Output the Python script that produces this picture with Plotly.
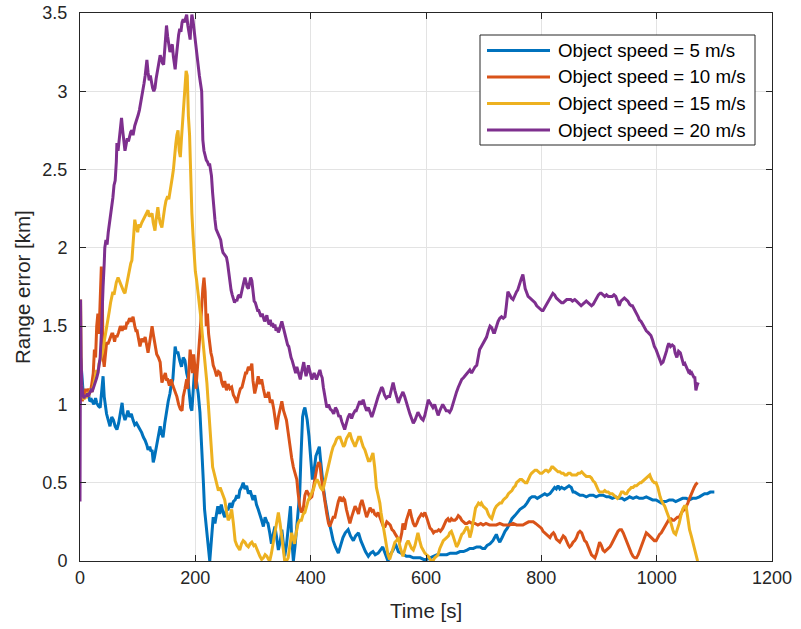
import plotly.graph_objects as go

# ---------------- data (time [s], range error [km]) ----------------
speed5 = [(0,1.0),(1,1.30),(3,1.20),(5,1.10),(8,1.08),(10,1.05),(14,1.08),(17,1.02),(20,1.03),(24,1.0),(27,1.04),(29,1.01),(32,0.99),(35,0.98),(38,1.10),(40,1.18),(42,1.05),(46,0.94),(49,0.90),(52,0.86),(55,0.92),(58,0.90),(61,0.86),(64,0.84),(67,0.88),(70,0.95),(73,1.01),(75,0.94),(78,0.90),(81,0.93),(83,0.96),(86,0.92),(89,0.94),(92,0.90),(95,0.87),(98,0.88),(101,0.86),(104,0.84),(107,0.82),(110,0.79),(113,0.77),(116,0.74),(118,0.71),(121,0.73),(123,0.70),(125,0.71),(127,0.63),(129,0.66),(131,0.70),(133,0.73),(136,0.80),(139,0.86),(141,0.82),(144,0.79),(147,0.88),(150,0.96),(153,1.02),(156,1.07),(158,1.12),(161,1.16),(163,1.25),(165,1.37),(167,1.33),(170,1.33),(173,1.28),(176,1.24),(179,1.30),(182,1.28),(185,1.20),(187,1.17),(190,1.05),(192,0.98),(194,0.96),(196,1.10),(199,1.24),(202,1.15),(205,1.07),(208,0.95),(211,0.75),(214,0.50),(216,0.33),(219,0.20),(222,0.11),(225,0.0),(228,0.15),(231,0.28),(234,0.24),(237,0.32),(239,0.35),(242,0.30),(245,0.36),(248,0.31),(251,0.28),(254,0.33),(257,0.33),(260,0.37),(263,0.34),(266,0.38),(269,0.39),(272,0.42),(275,0.40),(277,0.45),(280,0.47),(283,0.50),(286,0.46),(289,0.48),(292,0.43),(295,0.45),(298,0.41),(300,0.39),(303,0.42),(306,0.36),(309,0.33),(312,0.30),(315,0.26),(318,0.22),(321,0.28),(324,0.25),(326,0.24),(329,0.18),(332,0.11),(335,0.17),(338,0.22),(341,0.15),(344,0.07),(347,0.12),(350,0.20),(353,0.10),(355,0.03),(358,0.10),(361,0.20),(363,0.28),(365,0.35),(367,0.15),(370,0.0),(373,0.10),(376,0.22),(379,0.32),(381,0.43),(383,0.65),(386,0.92),(388,0.96),(390,0.98),(392,0.94),(394,0.90),(397,0.80),(399,0.69),(401,0.60),(403,0.52),(406,0.58),(409,0.67),(412,0.70),(415,0.73),(417,0.65),(419,0.56),(422,0.47),(425,0.39),(428,0.32),(431,0.26),(435,0.20),(439,0.13),(443,0.09),(448,0.05),(452,0.10),(456,0.15),(460,0.18),(465,0.20),(469,0.16),(474,0.13),(478,0.16),(483,0.18),(487,0.13),(491,0.09),(495,0.06),(500,0.03),(504,0.05),(508,0.06),(512,0.04),(517,0.05),(521,0.07),(525,0.09),(529,0.05),(534,0.0),(538,0.04),(543,0.07),(547,0.11),(552,0.06),(557,0.05),(562,0.04),(566,0.03),(572,0.03),(578,0.02),(584,0.02),(590,0.02),(596,0.01),(601,0.01),(607,0.02),(613,0.03),(619,0.04),(625,0.04),(630,0.04),(636,0.04),(642,0.05),(648,0.05),(653,0.05),(659,0.06),(665,0.06),(671,0.07),(676,0.08),(682,0.08),(688,0.09),(694,0.09),(698,0.08),(702,0.08),(706,0.10),(711,0.11),(716,0.13),(719,0.15),(722,0.17),(725,0.14),(728,0.12),(732,0.15),(737,0.19),(741,0.21),(745,0.24),(749,0.27),(754,0.29),(758,0.31),(763,0.33),(767,0.34),(771,0.35),(775,0.37),(780,0.40),(784,0.41),(789,0.41),(793,0.40),(797,0.41),(801,0.42),(806,0.43),(810,0.42),(815,0.43),(819,0.45),(823,0.47),(826,0.46),(829,0.48),(832,0.46),(835,0.47),(840,0.46),(844,0.47),(848,0.48),(852,0.47),(855,0.44),(858,0.44),(862,0.43),(867,0.42),(872,0.42),(878,0.41),(884,0.42),(890,0.42),(895,0.41),(901,0.42),(907,0.42),(913,0.41),(918,0.41),(923,0.40),(929,0.41),(935,0.40),(940,0.40),(944,0.39),(949,0.40),(953,0.41),(959,0.40),(965,0.41),(970,0.40),(976,0.40),(982,0.41),(988,0.40),(993,0.39),(999,0.39),(1004,0.38),(1008,0.37),(1012,0.38),(1016,0.38),(1022,0.39),(1028,0.39),(1033,0.38),(1039,0.39),(1045,0.40),(1051,0.40),(1057,0.39),(1062,0.40),(1068,0.40),(1074,0.41),(1079,0.42),(1083,0.43),(1088,0.43),(1093,0.44),(1097,0.44),(1100,0.44)]

speed10 = [(0,1.10),(2,1.05),(4,1.02),(6,1.08),(8,1.05),(10,1.10),(12,1.06),(15,1.10),(18,1.08),(20,1.12),(23,1.20),(25,1.35),(27,1.30),(29,1.50),(31,1.58),(33,1.45),(35,1.70),(37,1.88),(39,1.60),(40,1.30),(42,1.24),(44,1.35),(46,1.39),(49,1.39),(52,1.42),(55,1.45),(57,1.45),(60,1.40),(62,1.44),(64,1.43),(67,1.46),(70,1.50),(73,1.47),(76,1.50),(79,1.48),(81,1.52),(83,1.52),(86,1.55),(89,1.53),(92,1.56),(95,1.50),(97,1.47),(99,1.47),(102,1.40),(104,1.37),(107,1.42),(110,1.40),(113,1.43),(115,1.38),(118,1.33),(121,1.40),(123,1.46),(125,1.50),(127,1.45),(130,1.37),(133,1.32),(136,1.30),(139,1.27),(142,1.14),(145,1.17),(148,1.20),(150,1.16),(152,1.16),(155,1.12),(158,1.16),(161,1.12),(163,1.10),(165,1.09),(168,1.05),(171,1.00),(174,0.97),(177,0.96),(179,1.05),(182,1.10),(185,1.16),(187,1.10),(189,1.25),(191,1.35),(193,1.28),(195,1.20),(197,1.32),(199,1.25),(201,1.10),(203,1.22),(205,1.35),(207,1.40),(209,1.50),(211,1.65),(213,1.74),(215,1.81),(217,1.72),(219,1.50),(221,1.58),(223,1.45),(225,1.38),(227,1.33),(229,1.30),(231,1.25),(234,1.22),(237,1.18),(240,1.21),(243,1.20),(246,1.14),(249,1.11),(251,1.15),(254,1.09),(257,1.13),(260,1.10),(263,1.11),(266,1.06),(269,1.04),(272,1.01),(275,1.06),(278,1.10),(281,1.11),(284,1.15),(287,1.20),(289,1.20),(292,1.24),(295,1.22),(298,1.26),(300,1.15),(303,1.07),(306,1.12),(309,1.18),(312,1.13),(315,1.16),(318,1.10),(321,1.05),(324,1.05),(327,1.08),(330,1.01),(333,1.03),(336,0.97),(339,0.90),(341,0.84),(344,0.92),(347,0.98),(350,1.02),(353,0.96),(356,0.92),(358,0.90),(361,0.82),(364,0.73),(367,0.66),(370,0.60),(373,0.56),(376,0.52),(378,0.44),(381,0.35),(384,0.31),(387,0.33),(390,0.42),(393,0.45),(396,0.43),(399,0.40),(402,0.41),(405,0.48),(408,0.55),(411,0.60),(414,0.63),(416,0.62),(419,0.52),(422,0.44),(425,0.37),(428,0.30),(431,0.24),(433,0.22),(436,0.25),(439,0.28),(442,0.28),(445,0.34),(448,0.38),(451,0.41),(454,0.38),(457,0.40),(459,0.39),(462,0.33),(465,0.28),(468,0.24),(471,0.28),(474,0.32),(477,0.35),(480,0.33),(483,0.30),(486,0.36),(489,0.39),(492,0.35),(495,0.30),(497,0.28),(500,0.31),(503,0.34),(506,0.32),(508,0.33),(511,0.30),(514,0.29),(517,0.31),(520,0.28),(523,0.25),(526,0.22),(529,0.22),(532,0.25),(535,0.24),(538,0.23),(541,0.20),(544,0.19),(547,0.17),(550,0.15),(552,0.14),(555,0.13),(558,0.18),(560,0.24),(563,0.20),(566,0.26),(569,0.30),(572,0.33),(575,0.28),(578,0.24),(581,0.22),(584,0.24),(587,0.27),(589,0.28),(592,0.30),(595,0.29),(598,0.31),(601,0.28),(604,0.24),(607,0.21),(610,0.20),(613,0.18),(616,0.19),(619,0.19),(622,0.20),(625,0.19),(629,0.21),(632,0.24),(635,0.26),(638,0.27),(641,0.25),(644,0.27),(647,0.26),(650,0.26),(653,0.27),(656,0.29),(659,0.28),(662,0.26),(665,0.25),(668,0.24),(671,0.24),(675,0.25),(680,0.24),(685,0.24),(690,0.23),(695,0.24),(699,0.23),(704,0.24),(710,0.23),(716,0.23),(722,0.23),(728,0.24),(734,0.23),(740,0.23),(745,0.23),(751,0.24),(757,0.23),(763,0.23),(768,0.23),(773,0.24),(778,0.25),(783,0.25),(786,0.25),(790,0.24),(794,0.23),(797,0.22),(800,0.21),(803,0.19),(806,0.18),(809,0.17),(812,0.16),(815,0.15),(818,0.17),(821,0.18),(823,0.17),(826,0.14),(829,0.13),(832,0.12),(835,0.14),(838,0.16),(841,0.15),(844,0.12),(847,0.10),(849,0.09),(852,0.10),(855,0.12),(858,0.13),(861,0.15),(864,0.18),(867,0.19),(870,0.18),(873,0.15),(875,0.13),(878,0.12),(881,0.09),(884,0.06),(887,0.04),(890,0.03),(893,0.02),(896,0.05),(899,0.09),(901,0.12),(904,0.10),(907,0.07),(910,0.06),(913,0.07),(916,0.08),(919,0.09),(922,0.11),(925,0.13),(927,0.15),(930,0.17),(933,0.19),(936,0.20),(939,0.20),(942,0.18),(945,0.15),(948,0.13),(951,0.10),(954,0.07),(956,0.05),(959,0.03),(962,0.02),(965,0.02),(968,0.04),(971,0.07),(973,0.09),(976,0.12),(979,0.15),(982,0.18),(985,0.17),(988,0.16),(990,0.15),(993,0.14),(996,0.13),(999,0.13),(1002,0.15),(1005,0.17),(1008,0.18),(1011,0.20),(1014,0.22),(1017,0.24),(1020,0.26),(1022,0.27),(1025,0.27),(1028,0.26),(1030,0.26),(1033,0.27),(1036,0.28),(1039,0.28),(1042,0.30),(1045,0.32),(1049,0.33),(1052,0.35),(1054,0.37),(1057,0.40),(1060,0.43),(1062,0.45),(1065,0.47),(1068,0.49),(1071,0.50)]

speed15 = [(0,1.60),(1,1.67),(2,1.30),(3,1.08),(5,1.05),(7,1.03),(9,1.06),(11,1.04),(13,1.08),(15,1.05),(17,1.08),(19,1.10),(21,1.08),(23,1.12),(25,1.15),(27,1.18),(29,1.22),(31,1.20),(33,1.26),(35,1.28),(37,1.30),(39,1.33),(41,1.38),(43,1.42),(45,1.46),(47,1.52),(49,1.54),(51,1.60),(53,1.65),(55,1.69),(57,1.72),(59,1.70),(61,1.75),(63,1.78),(66,1.81),(69,1.78),(71,1.76),(73,1.75),(76,1.72),(78,1.71),(80,1.75),(83,1.81),(86,1.85),(88,1.90),(90,1.92),(92,2.02),(94,2.12),(95,2.18),(97,2.14),(100,2.10),(102,2.15),(104,2.13),(107,2.16),(110,2.18),(113,2.20),(116,2.22),(118,2.24),(120,2.20),(122,2.21),(125,2.22),(127,2.16),(130,2.11),(132,2.18),(135,2.26),(137,2.20),(139,2.16),(142,2.13),(144,2.20),(147,2.26),(149,2.30),(152,2.33),(154,2.31),(156,2.35),(158,2.40),(160,2.45),(162,2.50),(164,2.60),(166,2.66),(168,2.72),(170,2.75),(172,2.62),(174,2.58),(176,2.70),(178,2.82),(180,2.95),(182,3.08),(184,3.13),(186,3.10),(187,2.95),(188,2.84),(190,2.72),(191,2.60),(192,2.40),(193,2.30),(194,2.22),(196,2.08),(197,2.01),(199,1.90),(200,1.85),(202,1.80),(204,1.74),(206,1.69),(208,1.62),(210,1.54),(212,1.45),(214,1.38),(216,1.28),(218,1.20),(220,1.14),(222,1.03),(224,0.92),(226,0.80),(228,0.66),(230,0.60),(232,0.57),(234,0.54),(236,0.50),(238,0.47),(240,0.45),(243,0.47),(246,0.44),(248,0.43),(251,0.39),(254,0.32),(257,0.26),(260,0.28),(263,0.33),(266,0.24),(269,0.13),(272,0.10),(275,0.08),(277,0.07),(280,0.11),(283,0.13),(286,0.12),(289,0.10),(292,0.09),(295,0.11),(298,0.12),(301,0.10),(303,0.11),(306,0.08),(309,0.05),(312,0.03),(315,0.01),(318,0.02),(321,0.04),(324,0.03),(327,0.01),(329,0.0),(332,0.05),(335,0.12),(338,0.18),(341,0.25),(344,0.31),(347,0.24),(350,0.15),(353,0.05),(355,0.0),(358,0.0),(361,0.02),(364,0.10),(367,0.18),(370,0.14),(372,0.11),(375,0.18),(378,0.24),(381,0.26),(384,0.26),(387,0.30),(390,0.31),(393,0.35),(396,0.39),(399,0.41),(402,0.43),(405,0.46),(408,0.50),(411,0.52),(414,0.50),(417,0.47),(421,0.45),(424,0.50),(427,0.56),(430,0.61),(433,0.64),(436,0.69),(439,0.73),(442,0.75),(445,0.78),(448,0.79),(451,0.79),(454,0.76),(457,0.73),(459,0.74),(462,0.78),(465,0.80),(468,0.82),(471,0.78),(474,0.76),(477,0.73),(480,0.76),(483,0.79),(486,0.79),(489,0.75),(491,0.73),(494,0.71),(497,0.67),(500,0.64),(503,0.64),(506,0.68),(508,0.69),(511,0.60),(514,0.47),(517,0.42),(520,0.37),(522,0.31),(525,0.24),(528,0.16),(531,0.09),(534,0.04),(537,0.01),(540,0.05),(543,0.09),(546,0.12),(549,0.13),(552,0.15),(555,0.09),(558,0.05),(560,0.03),(563,0.07),(566,0.11),(569,0.13),(572,0.10),(575,0.08),(578,0.07),(581,0.10),(584,0.15),(586,0.18),(589,0.13),(592,0.09),(595,0.07),(598,0.05),(601,0.04),(604,0.03),(607,0.01),(610,0.0),(612,0.0),(615,0.02),(618,0.03),(621,0.04),(624,0.08),(627,0.11),(630,0.13),(633,0.14),(636,0.15),(639,0.16),(641,0.18),(644,0.19),(647,0.16),(650,0.12),(653,0.09),(656,0.11),(659,0.14),(662,0.17),(665,0.18),(668,0.20),(671,0.22),(674,0.19),(676,0.15),(679,0.19),(681,0.24),(684,0.30),(686,0.34),(688,0.35),(691,0.37),(694,0.36),(696,0.37),(699,0.35),(702,0.34),(705,0.33),(708,0.30),(711,0.28),(714,0.27),(716,0.30),(719,0.33),(722,0.35),(725,0.36),(728,0.37),(731,0.37),(734,0.39),(737,0.40),(740,0.41),(743,0.43),(746,0.44),(749,0.45),(752,0.47),(755,0.48),(757,0.50),(760,0.51),(763,0.52),(766,0.52),(769,0.51),(772,0.50),(775,0.50),(778,0.53),(781,0.55),(783,0.56),(786,0.57),(789,0.58),(792,0.58),(795,0.57),(798,0.56),(801,0.56),(804,0.57),(807,0.58),(809,0.58),(812,0.57),(815,0.58),(818,0.60),(820,0.60),(823,0.59),(826,0.58),(829,0.57),(832,0.57),(835,0.56),(838,0.56),(841,0.55),(844,0.55),(847,0.56),(850,0.56),(853,0.55),(856,0.55),(859,0.55),(861,0.55),(864,0.56),(867,0.56),(870,0.57),(872,0.56),(875,0.55),(878,0.54),(881,0.54),(884,0.54),(887,0.53),(890,0.51),(893,0.50),(896,0.47),(899,0.45),(901,0.44),(904,0.44),(907,0.44),(910,0.45),(913,0.44),(916,0.44),(919,0.43),(923,0.43),(926,0.42),(929,0.41),(932,0.40),(935,0.41),(937,0.43),(939,0.44),(942,0.44),(945,0.43),(948,0.43),(951,0.45),(954,0.46),(956,0.47),(959,0.47),(962,0.48),(965,0.48),(968,0.49),(971,0.50),(973,0.50),(976,0.51),(979,0.52),(982,0.53),(985,0.54),(988,0.55),(990,0.53),(993,0.51),(996,0.50),(999,0.50),(1002,0.47),(1004,0.43),(1006,0.41),(1009,0.38),(1012,0.36),(1014,0.35),(1017,0.32),(1020,0.29),(1022,0.28),(1025,0.24),(1028,0.20),(1030,0.18),(1033,0.17),(1036,0.20),(1039,0.24),(1042,0.29),(1045,0.33),(1048,0.35),(1051,0.35),(1053,0.30),(1055,0.24),(1057,0.20),(1060,0.16),(1062,0.13),(1065,0.09),(1068,0.05),(1070,0.02),(1071,0.0)]

speed20 = [(0,0.38),(1,1.67),(2,1.30),(3,1.12),(5,1.06),(7,1.04),(9,1.06),(11,1.05),(13,1.07),(15,1.06),(17,1.08),(19,1.09),(21,1.08),(23,1.10),(25,1.12),(27,1.14),(29,1.17),(31,1.20),(33,1.24),(35,1.30),(37,1.45),(38,1.62),(40,1.75),(42,1.90),(43,2.00),(45,2.05),(47,2.02),(49,2.10),(51,2.15),(53,2.20),(55,2.28),(57,2.32),(59,2.40),(61,2.43),(63,2.55),(64,2.67),(66,2.62),(68,2.70),(70,2.75),(72,2.83),(74,2.75),(76,2.68),(78,2.62),(80,2.66),(82,2.70),(84,2.68),(86,2.72),(88,2.74),(90,2.75),(92,2.72),(95,2.78),(97,2.80),(99,2.82),(101,2.85),(103,2.88),(105,2.92),(107,2.95),(109,3.00),(111,3.05),(113,3.10),(115,3.18),(116,3.20),(118,3.12),(120,3.07),(122,3.10),(124,3.05),(126,3.02),(128,3.00),(130,3.02),(132,3.08),(134,3.12),(136,3.15),(138,3.20),(139,3.23),(141,3.21),(143,3.18),(145,3.17),(147,3.25),(149,3.38),(150,3.42),(152,3.35),(154,3.30),(156,3.25),(158,3.28),(160,3.30),(162,3.22),(164,3.16),(165,3.14),(167,3.22),(169,3.30),(171,3.36),(173,3.40),(175,3.38),(177,3.44),(179,3.46),(181,3.44),(183,3.47),(185,3.49),(187,3.42),(189,3.36),(191,3.33),(192,3.40),(194,3.49),(196,3.45),(198,3.38),(199,3.36),(201,3.28),(203,3.20),(205,3.14),(207,3.10),(209,3.05),(211,3.00),(212,2.85),(213,2.69),(215,2.62),(217,2.58),(219,2.56),(221,2.55),(223,2.53),(225,2.53),(227,2.48),(228,2.46),(230,2.35),(232,2.25),(234,2.18),(236,2.12),(238,2.10),(240,2.08),(242,2.06),(244,2.05),(246,2.00),(248,1.97),(250,1.96),(252,1.95),(254,1.94),(256,1.90),(258,1.83),(260,1.78),(262,1.73),(264,1.70),(266,1.67),(268,1.65),(270,1.67),(272,1.66),(274,1.69),(276,1.70),(278,1.68),(280,1.72),(282,1.74),(284,1.78),(286,1.81),(288,1.77),(290,1.75),(292,1.74),(294,1.78),(296,1.81),(298,1.79),(300,1.72),(302,1.66),(304,1.65),(306,1.63),(308,1.60),(310,1.60),(312,1.58),(314,1.56),(316,1.58),(318,1.56),(320,1.53),(322,1.55),(324,1.57),(326,1.53),(328,1.51),(330,1.54),(332,1.50),(334,1.52),(336,1.49),(338,1.51),(340,1.47),(342,1.49),(344,1.46),(346,1.48),(348,1.51),(350,1.53),(352,1.50),(354,1.47),(356,1.45),(358,1.40),(360,1.38),(362,1.37),(364,1.33),(366,1.30),(368,1.28),(370,1.25),(372,1.22),(374,1.20),(376,1.24),(378,1.21),(380,1.18),(382,1.16),(384,1.20),(386,1.24),(388,1.27),(390,1.22),(392,1.18),(394,1.21),(396,1.25),(398,1.22),(400,1.19),(402,1.16),(404,1.18),(406,1.20),(408,1.18),(410,1.16),(412,1.18),(414,1.20),(416,1.22),(418,1.19),(420,1.17),(422,1.11),(424,1.06),(426,1.02),(428,0.98),(431,1.00),(434,0.97),(437,0.96),(440,0.94),(443,0.98),(446,0.96),(449,0.92),(451,0.93),(454,0.89),(457,0.86),(459,0.84),(462,0.88),(465,0.92),(468,0.94),(471,0.91),(474,0.94),(477,0.96),(479,0.96),(482,0.99),(485,1.02),(488,1.00),(491,1.03),(494,0.99),(497,0.96),(500,0.98),(503,0.95),(506,0.92),(508,0.94),(511,0.98),(514,1.02),(517,1.05),(520,1.08),(523,1.11),(525,1.10),(528,1.06),(531,1.04),(534,1.05),(537,1.05),(540,1.10),(543,1.14),(546,1.09),(549,1.05),(552,1.01),(555,1.04),(558,1.06),(560,1.08),(563,1.05),(566,1.01),(569,0.98),(572,0.94),(575,0.91),(578,0.88),(581,0.90),(584,0.93),(586,0.95),(589,0.93),(592,0.91),(595,0.90),(598,0.93),(601,0.98),(604,1.03),(607,1.01),(610,0.99),(612,0.98),(615,1.00),(618,0.97),(621,0.93),(624,0.96),(627,0.99),(629,1.00),(632,0.98),(635,0.96),(638,0.96),(641,0.95),(644,0.97),(647,1.01),(650,1.05),(653,1.08),(656,1.11),(659,1.14),(662,1.16),(665,1.17),(667,1.18),(670,1.19),(673,1.21),(676,1.22),(679,1.20),(682,1.22),(685,1.24),(688,1.25),(690,1.30),(693,1.35),(696,1.37),(699,1.39),(702,1.41),(705,1.43),(708,1.47),(711,1.50),(714,1.49),(717,1.46),(719,1.46),(722,1.50),(725,1.53),(728,1.55),(731,1.56),(734,1.55),(737,1.56),(739,1.62),(742,1.72),(745,1.70),(748,1.68),(751,1.67),(754,1.70),(757,1.72),(759,1.73),(762,1.77),(765,1.80),(768,1.83),(770,1.78),(772,1.74),(775,1.71),(777,1.69),(780,1.68),(783,1.67),(786,1.66),(789,1.65),(792,1.63),(795,1.62),(798,1.61),(801,1.60),(803,1.60),(806,1.62),(809,1.64),(812,1.66),(815,1.68),(818,1.70),(820,1.71),(823,1.70),(826,1.68),(829,1.67),(832,1.66),(835,1.65),(838,1.65),(841,1.66),(844,1.67),(847,1.67),(851,1.67),(854,1.66),(858,1.67),(861,1.66),(864,1.65),(867,1.64),(869,1.63),(872,1.64),(875,1.65),(878,1.66),(881,1.65),(884,1.64),(887,1.63),(890,1.64),(893,1.66),(896,1.68),(899,1.70),(902,1.71),(904,1.71),(907,1.70),(910,1.69),(913,1.70),(916,1.69),(919,1.69),(923,1.69),(926,1.70),(929,1.69),(932,1.66),(935,1.63),(938,1.66),(941,1.67),(944,1.68),(947,1.67),(950,1.66),(953,1.64),(956,1.63),(958,1.63),(961,1.61),(963,1.59),(965,1.58),(968,1.56),(970,1.54),(973,1.53),(976,1.51),(979,1.49),(982,1.47),(985,1.46),(988,1.45),(990,1.44),(993,1.41),(996,1.37),(999,1.35),(1001,1.33),(1003,1.30),(1006,1.28),(1008,1.26),(1011,1.27),(1014,1.30),(1017,1.34),(1019,1.37),(1021,1.39),(1024,1.37),(1027,1.38),(1030,1.37),(1032,1.33),(1035,1.30),(1038,1.34),(1041,1.33),(1043,1.30),(1045,1.27),(1047,1.25),(1049,1.26),(1051,1.24),(1053,1.23),(1055,1.21),(1057,1.22),(1059,1.19),(1061,1.20),(1063,1.18),(1065,1.17),(1066,1.18),(1067,1.14),(1068,1.09),(1070,1.12),(1072,1.14)]

series_names = ["Object speed = 5 m/s", "Object speed = 10 m/s",
                "Object speed = 15 m/s", "Object speed = 20 m/s"]
series_data = [speed5, speed10, speed15, speed20]
colors = ["#0072BD", "#D95319", "#EDB120", "#7E2F8E"]

x_ticks = [0, 200, 400, 600, 800, 1000, 1200]
y_ticks = [0, 0.5, 1, 1.5, 2, 2.5, 3, 3.5]
y_tick_text = ["0", "0.5", "1", "1.5", "2", "2.5", "3", "3.5"]

FONT = "Liberation Sans, Arial, Helvetica, sans-serif"
AX = "#262626"

fig = go.Figure()
for name, data, c in zip(series_names, series_data, colors):
    fig.add_trace(go.Scatter(
        x=[p[0] for p in data], y=[p[1] for p in data],
        mode="lines", name=name, showlegend=False,
        line=dict(color=c, width=3)))

axis_common = dict(
    showgrid=True, gridcolor="#e3e3e3", gridwidth=1,
    zeroline=False, showline=True, linecolor=AX, linewidth=1,
    mirror="ticks", ticks="inside", ticklen=6, tickcolor=AX,
    tickfont=dict(family=FONT, size=18, color=AX),
    automargin=False,
)
fig.update_xaxes(range=[0, 1200], tickvals=x_ticks, **axis_common)
fig.update_yaxes(range=[0, 3.5], tickvals=y_ticks, ticktext=y_tick_text,
                 ticklabelstandoff=8, **axis_common)

# plot-area geometry in pixels
L, R, T, B = 80, 772, 13, 561
W, H = 801, 629

def px(xp):
    return (xp - L) / (R - L)

def py(yp):
    return (B - yp) / (B - T)

shapes = []
annotations = []
# legend box
shapes.append(dict(type="rect", xref="paper", yref="paper",
                   x0=px(480), x1=px(755), y0=py(145), y1=py(35),
                   line=dict(color=AX, width=1), fillcolor="white", layer="above"))
rows = [50.5, 77, 103.5, 130]
for r, name, c in zip(rows, series_names, colors):
    shapes.append(dict(type="line", xref="paper", yref="paper",
                       x0=px(487), x1=px(550), y0=py(r), y1=py(r),
                       line=dict(color=c, width=3), layer="above"))
    annotations.append(dict(text=name, xref="paper", yref="paper",
                            x=px(556), y=py(r), xanchor="left", yanchor="middle",
                            showarrow=False,
                            font=dict(family=FONT, size=18.7, color="#000000")))

annotations.append(dict(text="Time [s]", xref="paper", yref="paper",
                        x=0.5, y=py(610), xanchor="center", yanchor="middle",
                        showarrow=False, font=dict(family=FONT, size=20.5, color=AX)))
annotations.append(dict(text="Range error [km]", xref="paper", yref="paper",
                        x=px(22), y=0.5, xanchor="center", yanchor="middle",
                        textangle=-90, showarrow=False,
                        font=dict(family=FONT, size=20.5, color=AX)))

fig.update_layout(
    width=W, height=H,
    margin=dict(l=L, r=W - R, t=T, b=H - B, autoexpand=False),
    paper_bgcolor="white", plot_bgcolor="white",
    shapes=shapes, annotations=annotations,
)

fig.write_html("out.html")
